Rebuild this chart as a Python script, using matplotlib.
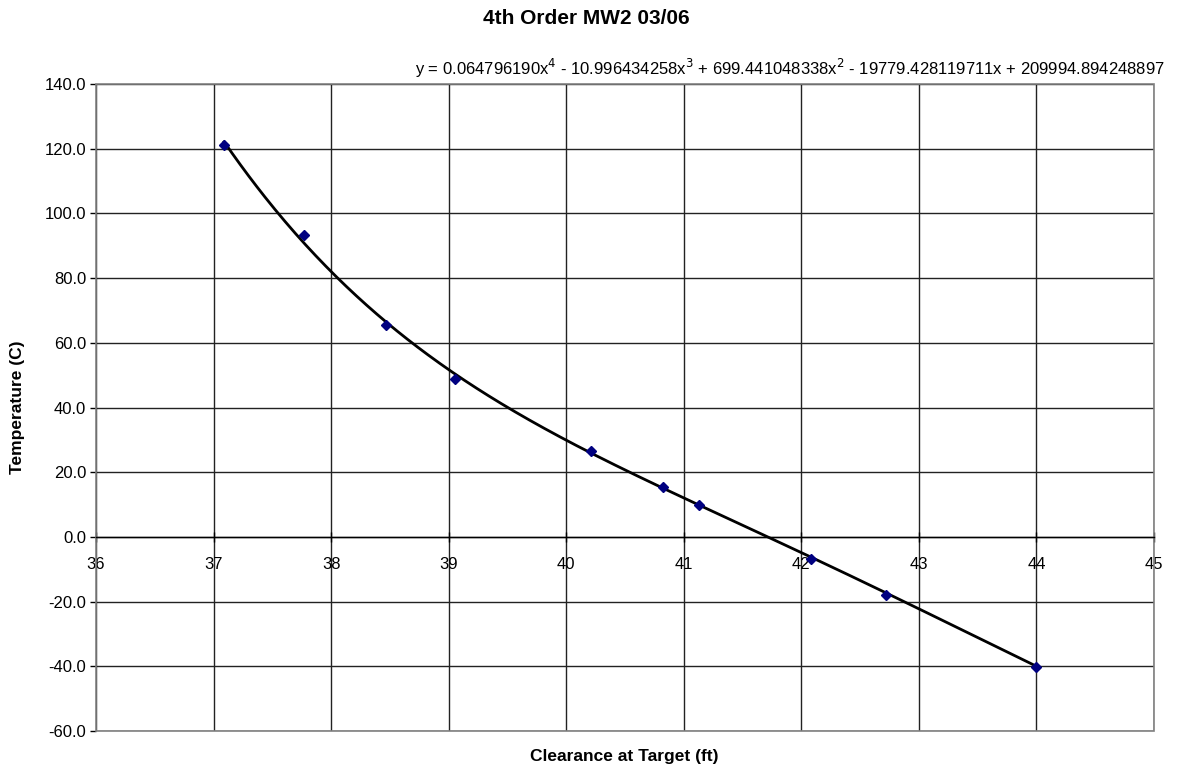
import numpy as np
import matplotlib
matplotlib.use("Agg")
import matplotlib.pyplot as plt
from matplotlib.patches import Rectangle

plt.rcParams['font.family'] = ['Liberation Sans', 'DejaVu Sans']

# Measured clearance vs. temperature
clearance = [37.09, 37.77, 38.47, 39.05, 40.21, 40.82, 41.13, 42.08, 42.72, 44.0]
temperature = [121.1, 93.3, 65.4, 48.8, 26.6, 15.4, 9.8, -6.8, -17.9, -40.1]

# 4th order trendline coefficients (highest power first)
trend_coeffs = [0.064796190, -10.996434258, 699.441048338, -19779.428119711, 209994.894248897]
equation = ("y = 0.064796190x$^4$ - 10.996434258x$^3$ + 699.441048338x$^2$ "
            "- 19779.428119711x + 209994.894248897")

x_ticks = list(range(36, 46))
y_ticks = list(range(-60, 141, 20))

fig = plt.figure(figsize=(11.8, 7.7), dpi=100)
ax = fig.add_axes([96 / 1180, 1 - 731 / 770, (1154 - 96) / 1180, (731 - 84) / 770])

ax.set_xlim(36, 45)
ax.set_ylim(-60, 140)

# Grid
ax.set_xticks(x_ticks)
ax.set_yticks(y_ticks)
ax.grid(True, color='#222222', linewidth=1.0)
ax.set_axisbelow(True)

# Plot-area border
for s in ['top', 'right', 'left']:
    ax.spines[s].set_visible(False)
ax.add_patch(Rectangle((0, 0), 1, 1, transform=ax.transAxes, fill=False,
                       edgecolor='#808080', linewidth=1.2, zorder=1, clip_on=False))

# X axis crosses at y = 0
ax.spines['bottom'].set_position(('data', 0))
ax.spines['bottom'].set_color('black')
ax.spines['bottom'].set_linewidth(1.0)
ax.spines['bottom'].set_zorder(2)

ax.tick_params(axis='x', direction='inout', length=7, width=1, labelsize=12, pad=11)
ax.tick_params(axis='y', direction='out', length=4, width=1, labelsize=12, pad=3)
ax.set_yticklabels([f"{v:.1f}" for v in y_ticks])
ax.set_xticklabels([str(v) for v in x_ticks])

# Trendline
xs = np.linspace(min(clearance), max(clearance), 400)
ax.plot(xs, np.polyval(trend_coeffs, xs), color='black', linewidth=2.0, zorder=3)

# Data points
ax.plot(clearance, temperature, linestyle='none', marker='D', markersize=5.5,
        color='#000080', markeredgecolor='#000080', zorder=4)

fig.text(586 / 1180, 1 - 19 / 770, "4th Order MW2 03/06", ha='center', va='center',
         fontsize=15, fontweight='bold')
fig.text(1165 / 1180, 1 - 68 / 770, equation, ha='right', va='center', fontsize=12)
fig.text(18 / 1180, 1 - 407 / 770, "Temperature (C)", ha='center', va='center',
         rotation=90, fontsize=12.5, fontweight='bold')
fig.text(624 / 1180, 1 - 757 / 770, "Clearance at Target (ft)", ha='center', va='center',
         fontsize=12.5, fontweight='bold')

fig.savefig("out.png", dpi=100)
